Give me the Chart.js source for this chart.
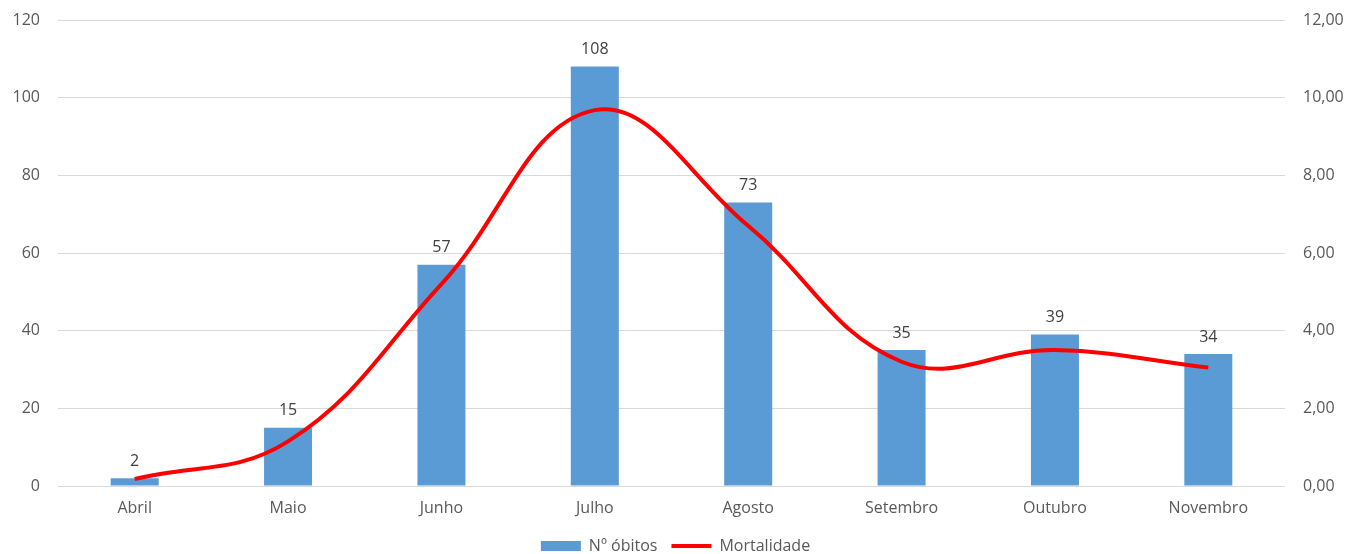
<!DOCTYPE html>
<html>
<head>
<meta charset="utf-8">
<script src="https://cdn.jsdelivr.net/npm/chart.js@4"></script>
<style>
  html, body { margin: 0; padding: 0; background: #fff; }
  #wrap { width: 1351px; height: 554px; }
</style>
</head>
<body>
<div id="wrap"><canvas id="obitosChart"></canvas></div>
<script>
// dados
const meses = ["Abril", "Maio", "Junho", "Julho", "Agosto", "Setembro", "Outubro", "Novembro"];
const obitos = [2, 15, 57, 108, 73, 35, 39, 34];
const mortalidade = [0.18, 1.15, 5.2, 9.68, 6.7, 3.2, 3.5, 3.05];

const leftTicks = [0, 20, 40, 60, 80, 100, 120];
const rightTicks = [0, 2, 4, 6, 8, 10, 12];

const textColor = "#595959";
const fontFamily = "'Open Sans', Lato, sans-serif";

// rótulos de valor em cima das barras
const barLabels = {
    id: "barLabels",
    afterDatasetsDraw(chart) {
        const c = chart.ctx;
        const meta = chart.getDatasetMeta(0);
        c.save();
        c.font = "16px " + fontFamily;
        c.fillStyle = "#404040";
        c.textAlign = "center";
        c.textBaseline = "middle";
        meta.data.forEach((bar, i) => {
            c.fillText(obitos[i], bar.x, bar.y - 17);
        });
        c.restore();
    }
};

// legenda mais baixa que o padrão
const legendFit = {
    id: "legendFit",
    beforeInit(chart) {
        const lg = chart.legend;
        const orig = lg.fit;
        lg.fit = function () {
            orig.call(this);
            this.height = 30;
        };
    }
};

function fixY(width) {
    return axis => {
        axis.width = width;
        axis.paddingTop = 0;
        axis.paddingBottom = 0;
    };
}

const ctx = document.getElementById("obitosChart").getContext("2d");

const chart = new Chart(ctx, {
    type: "bar",
    data: {
        labels: meses,
        datasets: [{
            type: "bar",
            label: "Nº óbitos",
            data: obitos,
            backgroundColor: "#5b9bd5",
            borderColor: "#5b9bd5",
            borderWidth: 0,
            barPercentage: 0.313,
            categoryPercentage: 1,
            yAxisID: "y",
            pointStyle: "rect",
            order: 1
        }, {
            type: "line",
            label: "Mortalidade",
            data: mortalidade,
            borderColor: "#ff0000",
            backgroundColor: "#ff0000",
            borderWidth: 4,
            tension: 0.4,
            pointRadius: 0,
            pointStyle: "line",
            fill: false,
            yAxisID: "y1",
            order: 0
        }]
    },
    options: {
        responsive: true,
        maintainAspectRatio: false,
        animation: false,
        layout: {
            padding: { top: 20, bottom: 0, left: 0, right: 0 }
        },
        plugins: {
            tooltip: { enabled: false },
            legend: {
                position: "bottom",
                labels: {
                    color: textColor,
                    font: { size: 16, family: fontFamily },
                    usePointStyle: true,
                    pointStyleWidth: 40,
                    boxHeight: 10,
                    padding: 14,
                    sort: (a, b) => a.datasetIndex - b.datasetIndex
                }
            }
        },
        scales: {
            x: {
                grid: { display: false },
                border: { display: false },
                afterFit: axis => { axis.height = 38; },
                ticks: {
                    color: textColor,
                    font: { size: 16, family: fontFamily },
                    padding: 5
                }
            },
            y: {
                position: "left",
                min: 0,
                max: 120,
                afterBuildTicks: axis => { axis.ticks = leftTicks.map(v => ({ value: v })); },
                afterFit: fixY(58),
                grid: { color: "#d9d9d9", lineWidth: 1, drawTicks: false },
                border: { display: false },
                ticks: {
                    color: textColor,
                    font: { size: 16, family: fontFamily },
                    padding: 18
                }
            },
            y1: {
                position: "right",
                min: 0,
                max: 12,
                afterBuildTicks: axis => { axis.ticks = rightTicks.map(v => ({ value: v })); },
                afterFit: fixY(66),
                grid: { display: false, drawTicks: false },
                border: { display: false },
                ticks: {
                    color: textColor,
                    font: { size: 16, family: fontFamily },
                    padding: 18,
                    callback: v => v.toFixed(2).replace(".", ",")
                }
            }
        }
    },
    plugins: [barLabels, legendFit]
});
</script>
</body>
</html>
